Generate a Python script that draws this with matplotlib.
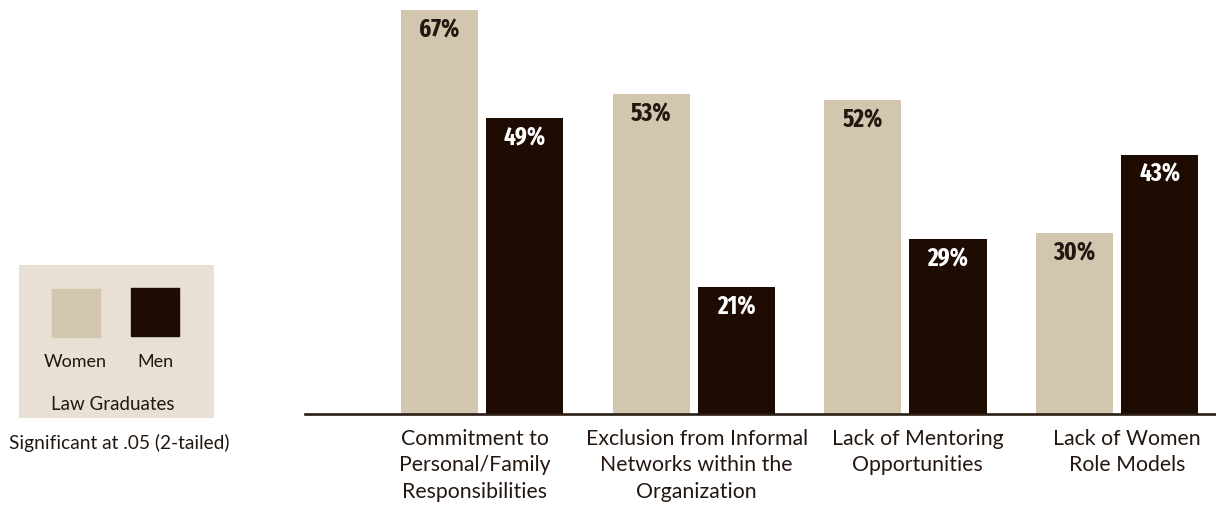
import matplotlib
matplotlib.use('Agg')
import matplotlib.pyplot as plt
from matplotlib.patches import Rectangle
import numpy as np

# survey shares, law graduates
categories = ['Commitment to\nPersonal/Family\nResponsibilities',
              'Exclusion from Informal\nNetworks within the\nOrganization',
              'Lack of Mentoring\nOpportunities',
              'Lack of Women\nRole Models']
women = [67, 53, 52, 30]
men = [49, 21, 29, 43]

WOMEN_COL = '#D3C6AF'
MEN_COL = '#1E0B02'
TEXT_COL = '#231710'
BOX_COL = '#E8E0D4'

label_font = ['Lato', 'DejaVu Sans']
value_font = ['Fira Sans Extra Condensed', 'DejaVu Sans']


def main():
	fig = plt.figure(figsize=(12.16, 5.10), dpi=100)

	# bar area, one x unit per category group
	ax = fig.add_axes([305/1216, 95/510, 911/1216, 415/510])
	x = np.arange(len(categories))
	w = 0.364
	off = 0.201
	ax.bar(x - off, women, width=w, color=WOMEN_COL, zorder=2)
	ax.bar(x + off, men, width=w, color=MEN_COL, zorder=2)
	ax.set_xlim(-0.836, 3.467)
	ax.set_ylim(0, 68.8)

	for xi, v in zip(x, women):
		ax.annotate('%d%%' % v, xy=(xi - off, v), xytext=(0, -19), textcoords='offset pixels',
			ha='center', va='center', fontsize=18, fontweight='bold', family=value_font, color=TEXT_COL)
	for xi, v in zip(x, men):
		ax.annotate('%d%%' % v, xy=(xi + off, v), xytext=(0, -19), textcoords='offset pixels',
			ha='center', va='center', fontsize=18, fontweight='bold', family=value_font, color='white')

	# category labels sit a little off the group centres
	shift = [-7, 3, 12, 10]
	for xi, lab, dx in zip(x, categories, shift):
		ax.annotate(lab, xy=(xi, 0), xycoords=('data', 'axes fraction'), xytext=(dx, -14),
			textcoords='offset pixels', ha='center', va='top', fontsize=15.3, family=label_font,
			color=TEXT_COL, linespacing=1.4)

	for s in ['top', 'right', 'left']:
		ax.spines[s].set_visible(False)
	ax.spines['bottom'].set_linewidth(1.9)
	ax.spines['bottom'].set_color('#2B1D12')
	ax.spines['bottom'].set_zorder(3)
	ax.set_xticks([])
	ax.set_yticks([])

	# legend panel
	lg = fig.add_axes([19/1216, 91/510, 195/1216, 153/510])
	lg.set_xlim(0, 195)
	lg.set_ylim(0, 153)
	lg.set_facecolor(BOX_COL)
	for s in lg.spines.values():
		s.set_visible(False)
	lg.set_xticks([])
	lg.set_yticks([])
	lg.add_patch(Rectangle((33, 81), 48, 48, color=WOMEN_COL))
	lg.add_patch(Rectangle((112, 82), 48, 48, color=MEN_COL))
	lg.text(56, 57, 'Women', ha='center', va='center', fontsize=13, family=label_font, color=TEXT_COL)
	lg.text(136, 57, 'Men', ha='center', va='center', fontsize=13, family=label_font, color=TEXT_COL)
	lg.text(94, 14, 'Law Graduates', ha='center', va='center', fontsize=13.5, family=label_font, color=TEXT_COL)

	fig.text(119/1216, 1 - 443/510, 'Significant at .05 (2-tailed)', ha='center', va='center',
		fontsize=13.8, family=label_font, color=TEXT_COL)

	fig.savefig('out.png', dpi=100, facecolor='white')


if __name__ == "__main__":
	main()
